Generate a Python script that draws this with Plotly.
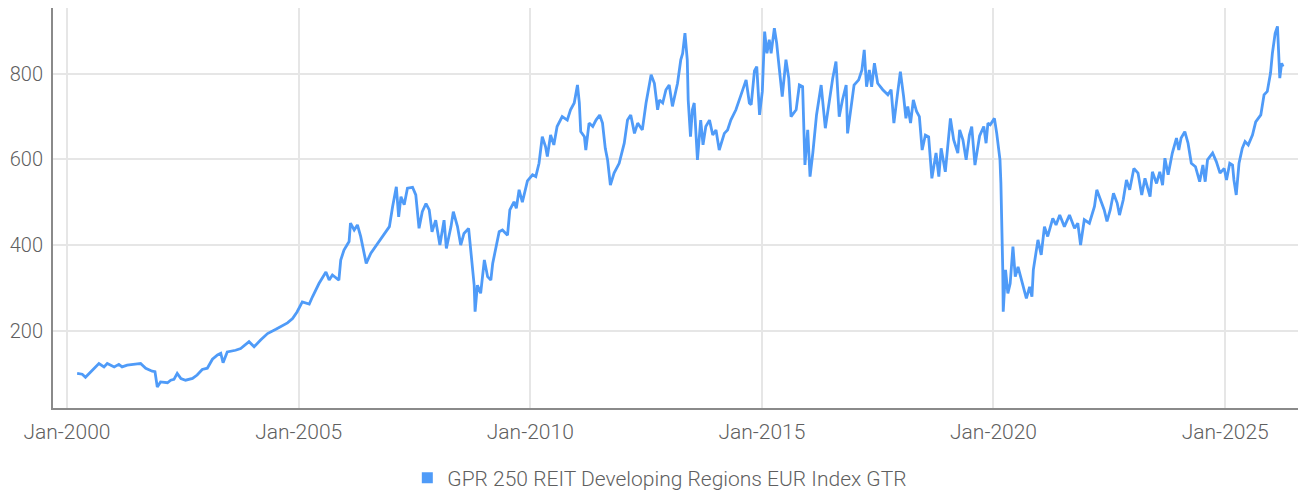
import pandas as pd
import plotly.graph_objects as go

# Decimal-year positions and index values
years = [
    2000.22, 2000.33, 2000.40, 2000.58, 2000.69, 2000.80, 2000.87, 2001.02, 2001.12, 2001.19,
    2001.30, 2001.52, 2001.59, 2001.70, 2001.84, 2001.90, 2001.95, 2002.02, 2002.17, 2002.24,
    2002.31, 2002.38, 2002.46, 2002.56, 2002.71, 2002.81, 2002.92, 2003.03, 2003.14, 2003.25,
    2003.32, 2003.37, 2003.46, 2003.64, 2003.75, 2003.93, 2004.04, 2004.18, 2004.33, 2004.51,
    2004.58, 2004.65, 2004.76, 2004.87, 2004.97, 2005.08, 2005.23, 2005.30, 2005.44, 2005.59,
    2005.66, 2005.73, 2005.87, 2005.91, 2005.98, 2006.09, 2006.12, 2006.20, 2006.27, 2006.34,
    2006.41, 2006.46, 2006.56, 2006.74, 2006.88, 2006.96, 2007.03, 2007.11, 2007.16, 2007.21,
    2007.28, 2007.35, 2007.46, 2007.53, 2007.60, 2007.67, 2007.75, 2007.82, 2007.88, 2007.96,
    2008.05, 2008.14, 2008.19, 2008.29, 2008.34, 2008.43, 2008.50, 2008.57, 2008.67, 2008.72,
    2008.75, 2008.79, 2008.81, 2008.86, 2008.93, 2009.01, 2009.08, 2009.15, 2009.19, 2009.26,
    2009.33, 2009.40, 2009.51, 2009.56, 2009.65, 2009.70, 2009.76, 2009.83, 2009.94, 2010.05,
    2010.12, 2010.19, 2010.26, 2010.33, 2010.37, 2010.44, 2010.51, 2010.58, 2010.69, 2010.80,
    2010.87, 2010.95, 2011.02, 2011.06, 2011.09, 2011.17, 2011.20, 2011.27, 2011.35, 2011.42,
    2011.50, 2011.56, 2011.62, 2011.67, 2011.73, 2011.81, 2011.92, 2012.03, 2012.10, 2012.17,
    2012.25, 2012.32, 2012.42, 2012.50, 2012.57, 2012.61, 2012.68, 2012.75, 2012.79, 2012.86,
    2012.93, 2013.00, 2013.07, 2013.18, 2013.25, 2013.29, 2013.34, 2013.39, 2013.41, 2013.46,
    2013.50, 2013.54, 2013.61, 2013.68, 2013.73, 2013.79, 2013.87, 2013.94, 2014.01, 2014.08,
    2014.19, 2014.26, 2014.33, 2014.44, 2014.55, 2014.66, 2014.73, 2014.77, 2014.84, 2014.89,
    2014.95, 2015.01, 2015.06, 2015.11, 2015.16, 2015.20, 2015.27, 2015.32, 2015.36, 2015.44,
    2015.52, 2015.58, 2015.63, 2015.74, 2015.81, 2015.88, 2015.93, 2015.99, 2016.04, 2016.10,
    2016.18, 2016.28, 2016.37, 2016.46, 2016.53, 2016.60, 2016.67, 2016.74, 2016.82, 2016.85,
    2016.92, 2016.99, 2017.09, 2017.16, 2017.21, 2017.26, 2017.32, 2017.37, 2017.43, 2017.50,
    2017.61, 2017.72, 2017.79, 2017.85, 2017.93, 2017.99, 2018.06, 2018.11, 2018.15, 2018.21,
    2018.27, 2018.34, 2018.40, 2018.46, 2018.53, 2018.60, 2018.67, 2018.76, 2018.82, 2018.87,
    2018.96, 2019.07, 2019.14, 2019.23, 2019.27, 2019.34, 2019.41, 2019.48, 2019.53, 2019.60,
    2019.70, 2019.79, 2019.84, 2019.88, 2019.93, 2020.02, 2020.07, 2020.14, 2020.16, 2020.18,
    2020.20, 2020.21, 2020.26, 2020.31, 2020.36, 2020.42, 2020.47, 2020.53, 2020.60, 2020.71,
    2020.78, 2020.83, 2020.86, 2020.91, 2020.96, 2021.03, 2021.10, 2021.17, 2021.28, 2021.35,
    2021.43, 2021.53, 2021.64, 2021.75, 2021.82, 2021.88, 2021.96, 2022.07, 2022.18, 2022.23,
    2022.32, 2022.39, 2022.45, 2022.52, 2022.59, 2022.67, 2022.72, 2022.80, 2022.87, 2022.94,
    2023.03, 2023.12, 2023.20, 2023.27, 2023.38, 2023.43, 2023.52, 2023.59, 2023.65, 2023.70,
    2023.77, 2023.86, 2023.95, 2024.00, 2024.05, 2024.13, 2024.20, 2024.27, 2024.36, 2024.45,
    2024.52, 2024.57, 2024.62, 2024.73, 2024.81, 2024.89, 2024.98, 2025.03, 2025.10, 2025.16,
    2025.19, 2025.24, 2025.30, 2025.37, 2025.43, 2025.50, 2025.59, 2025.66, 2025.77, 2025.84,
    2025.91, 2025.98, 2026.02, 2026.08, 2026.13, 2026.15, 2026.18, 2026.22, 2026.25,
]

values = [
    100, 98, 91, 112, 123, 115, 123, 115, 121, 115,
    119, 122, 123, 112, 105, 104, 68, 80, 78, 84,
    86, 100, 88, 84, 88, 96, 109, 112, 133, 143,
    147, 125, 150, 154, 158, 174, 162, 178, 193, 203,
    207, 210, 218, 228, 244, 267, 262, 279, 310, 337,
    318, 330, 318, 365, 388, 408, 451, 435, 447, 420,
    384, 357, 381, 408, 431, 443, 490, 536, 466, 513,
    494, 533, 535, 517, 439, 478, 497, 482, 431, 458,
    400, 458, 392, 443, 478, 443, 400, 427, 439, 381,
    357, 306, 244, 306, 287, 365, 326, 318, 357, 396,
    431, 435, 423, 482, 501, 486, 529, 500, 550, 564,
    560, 591, 653, 630, 607, 657, 634, 677, 700, 692,
    716, 732, 774, 732, 665, 653, 622, 685, 677, 692,
    704, 685, 626, 599, 540, 568, 591, 638, 692, 704,
    661, 685, 669, 732, 770, 798, 778, 716, 739, 732,
    763, 774, 724, 778, 833, 848, 895, 833, 739, 653,
    716, 732, 599, 692, 634, 677, 692, 657, 669, 622,
    661, 669, 692, 716, 751, 786, 732, 728, 807, 817,
    704, 759, 899, 848, 880, 848, 907, 872, 829, 747,
    833, 790, 700, 716, 774, 770, 587, 669, 560, 615,
    704, 774, 673, 739, 790, 829, 700, 739, 774, 661,
    720, 774, 786, 809, 856, 770, 809, 770, 825, 778,
    763, 751, 763, 685, 755, 805, 747, 696, 724, 685,
    739, 712, 700, 622, 657, 653, 556, 615, 560, 626,
    571, 696, 646, 615, 669, 646, 599, 657, 677, 587,
    655, 677, 638, 685, 681, 696, 661, 599, 544, 466,
    342, 244, 342, 287, 310, 396, 326, 349, 318, 275,
    302, 279, 342, 373, 412, 377, 443, 420, 462, 447,
    470, 443, 470, 439, 451, 400, 459, 451, 490, 529,
    505, 482, 455, 482, 521, 498, 470, 505, 552, 529,
    579, 568, 517, 556, 513, 571, 544, 571, 540, 603,
    564, 615, 650, 622, 650, 665, 638, 591, 583, 548,
    587, 548, 599, 615, 595, 568, 579, 552, 591, 587,
    552, 517, 591, 626, 642, 634, 657, 688, 704, 751,
    759, 802, 848, 895, 911, 848, 790, 825, 817,
]

series_name = "GPR 250 REIT Developing Regions EUR Index GTR"
y_ticks = [200, 400, 600, 800]

base = pd.Timestamp("2000-01-01")
dates = [base + pd.Timedelta(days=(y - 2000) * 365.25) for y in years]

line_color = "#4f9bf8"
text_color = "#5f5f5f"
font_family = "Roboto, 'Open Sans', sans-serif"

fig = go.Figure()
fig.add_trace(go.Scatter(
    x=dates, y=values, mode="lines",
    line=dict(color=line_color, width=2.8),
    showlegend=False, name=series_name,
))
# legend entry with a square symbol
fig.add_trace(go.Scatter(
    x=[None], y=[None], mode="markers",
    marker=dict(symbol="square", size=11, color=line_color),
    name=series_name, showlegend=True,
))

# the page body adds an 8px offset, so the figure is 8px smaller
fig.update_layout(
    width=1298, height=485,
    margin=dict(l=45, r=1, t=0, b=85, autoexpand=False),
    paper_bgcolor="white", plot_bgcolor="white",
    font=dict(family=font_family, size=21, color=text_color, weight=300),
    legend=dict(
        orientation="h", x=0.283, xanchor="left", y=-0.175, yanchor="middle",
        font=dict(family=font_family, size=21, color=text_color, weight=300),
        bgcolor="rgba(0,0,0,0)",
    ),
)
fig.update_xaxes(
    type="date", automargin=False,
    range=[pd.Timestamp("1999-09-13"), pd.Timestamp("2026-09-22")],
    tick0="2000-01-01", dtick="M60", tickformat="%b-%Y",
    showgrid=True, gridcolor="#e6e6e6", gridwidth=2,
    showline=True, linecolor="#8a8a8a", linewidth=2,
    ticks="outside", ticklen=4, tickcolor="rgba(0,0,0,0)",
    zeroline=False,
)
fig.update_yaxes(
    range=[19, 954], automargin=False,
    tickvals=y_ticks, tickfont=dict(size=20),
    showgrid=True, gridcolor="#e6e6e6", gridwidth=2,
    showline=True, linecolor="#8a8a8a", linewidth=2,
    ticks="outside", ticklen=4, tickcolor="rgba(0,0,0,0)",
    zeroline=False,
)

fig.write_html("out.html")
